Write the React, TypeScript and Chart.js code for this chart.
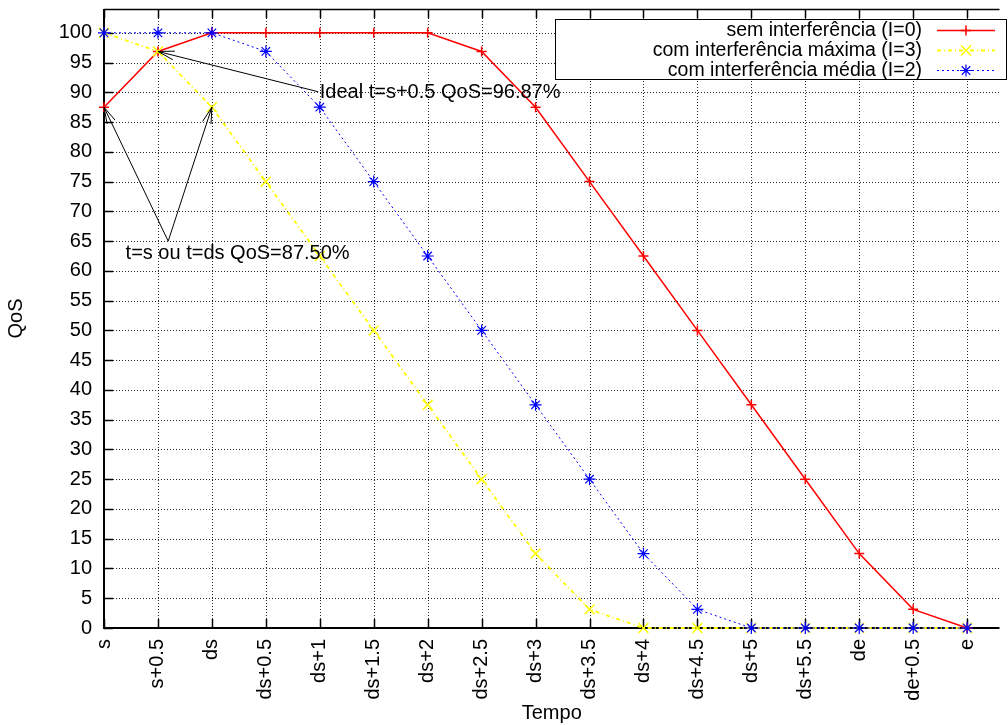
import React, { useEffect, useRef } from "react";
import { Chart, registerables } from "chart.js";

Chart.register(...registerables);

const categories = ["s", "s+0.5", "ds", "ds+0.5", "ds+1", "ds+1.5", "ds+2", "ds+2.5", "ds+3", "ds+3.5", "ds+4", "ds+4.5", "ds+5", "ds+5.5", "de", "de+0.5", "e"];
const semInterferencia = [87.5, 96.87, 100, 100, 100, 100, 100, 96.87, 87.5, 75, 62.5, 50, 37.5, 25, 12.5, 3.13, 0];
const interferenciaMaxima = [100, 96.87, 87.5, 75, 62.5, 50, 37.5, 25, 12.5, 3.13, 0, 0, 0, 0, 0, 0, 0];
const interferenciaMedia = [100, 100, 100, 96.87, 87.5, 75, 62.5, 50, 37.5, 25, 12.5, 3.13, 0, 0, 0, 0, 0];
const yTickValues = [0, 5, 10, 15, 20, 25, 30, 35, 40, 45, 50, 55, 60, 65, 70, 75, 80, 85, 90, 95, 100];
const seriesNames = ["sem interferência (I=0)", "com interferência máxima (I=3)", "com interferência média (I=2)"];

// annotations (data coordinates)
const labelIdeal = { text: "Ideal t=s+0.5 QoS=96.87%", x: 4, y: 90 };
const labelSDs = { text: "t=s ou t=ds QoS=87.50%", x: 0.4, y: 63 };
const arrows = [
  { from: [3.97, 90.1], to: [1, 96.87] },
  { from: [1.19, 65], to: [0, 87.5] },
  { from: [1.19, 65], to: [2, 87.5] },
];

const FONT = "'Liberation Sans', Arial, sans-serif";

const toPts = (arr: number[]) => arr.map((v, i) => ({ x: i, y: v }));

function drawArrow(ctx: CanvasRenderingContext2D, x1: number, y1: number, x2: number, y2: number) {
  const ang = Math.atan2(y1 - y2, x1 - x2);
  const len = 17;
  const spread = (15 * Math.PI) / 180;
  ctx.beginPath();
  ctx.moveTo(x1, y1);
  ctx.lineTo(x2, y2);
  ctx.moveTo(x2 + len * Math.cos(ang + spread), y2 + len * Math.sin(ang + spread));
  ctx.lineTo(x2, y2);
  ctx.lineTo(x2 + len * Math.cos(ang - spread), y2 + len * Math.sin(ang - spread));
  ctx.stroke();
}

function drawMarker(ctx: CanvasRenderingContext2D, style: string, r: number, x: number, y: number) {
  ctx.beginPath();
  if (style === "cross" || style === "star") {
    ctx.moveTo(x - r, y);
    ctx.lineTo(x + r, y);
    ctx.moveTo(x, y - r);
    ctx.lineTo(x, y + r);
  }
  if (style === "crossRot" || style === "star") {
    const d = r * Math.SQRT1_2;
    ctx.moveTo(x - d, y - d);
    ctx.lineTo(x + d, y + d);
    ctx.moveTo(x - d, y + d);
    ctx.lineTo(x + d, y - d);
  }
  ctx.stroke();
}

const gnuplotPlugin = {
  id: "gnuplotDecor",
  beforeDatasetsDraw(chart: any) {
    const { ctx, chartArea: a, scales } = chart;
    const xs = scales.x, ys = scales.y;
    ctx.save();
    // grid
    ctx.strokeStyle = "rgba(0,0,0,0.85)";
    ctx.lineWidth = 1;
    ctx.setLineDash([1, 2]);
    categories.forEach((_, i) => {
      const px = Math.round(xs.getPixelForValue(i)) + 0.5;
      ctx.beginPath();
      ctx.moveTo(px, a.top);
      ctx.lineTo(px, a.bottom);
      ctx.stroke();
    });
    yTickValues.forEach((v) => {
      const py = Math.round(ys.getPixelForValue(v)) + 0.5;
      ctx.beginPath();
      ctx.moveTo(a.left, py);
      ctx.lineTo(a.right, py);
      ctx.stroke();
    });
    ctx.setLineDash([]);
    // ticks (inward)
    ctx.strokeStyle = "#000";
    ctx.lineWidth = 1.5;
    const tl = 9;
    categories.forEach((_, i) => {
      const px = Math.round(xs.getPixelForValue(i)) + 0.5;
      ctx.beginPath();
      ctx.moveTo(px, a.bottom);
      ctx.lineTo(px, a.bottom - tl);
      ctx.moveTo(px, a.top);
      ctx.lineTo(px, a.top + tl);
      ctx.stroke();
    });
    yTickValues.forEach((v) => {
      const py = Math.round(ys.getPixelForValue(v)) + 0.5;
      ctx.beginPath();
      ctx.moveTo(a.left, py);
      ctx.lineTo(a.left + tl, py);
      ctx.stroke();
    });
    // frame
    ctx.lineWidth = 2;
    ctx.beginPath();
    ctx.moveTo(a.right, a.bottom);
    ctx.lineTo(a.left, a.bottom);
    ctx.lineTo(a.left, a.top);
    ctx.stroke();
    ctx.lineWidth = 1.3;
    ctx.beginPath();
    ctx.moveTo(a.left, a.top + 0.5);
    ctx.lineTo(a.right, a.top + 0.5);
    ctx.stroke();
    ctx.restore();
  },
  afterDatasetsDraw(chart: any) {
    const { ctx, scales } = chart;
    const xs = scales.x, ys = scales.y;
    ctx.save();
    // annotations
    ctx.strokeStyle = "#000";
    ctx.lineWidth = 1;
    arrows.forEach((ar) => {
      drawArrow(
        ctx,
        xs.getPixelForValue(ar.from[0]),
        ys.getPixelForValue(ar.from[1]),
        xs.getPixelForValue(ar.to[0]),
        ys.getPixelForValue(ar.to[1])
      );
    });
    ctx.fillStyle = "#000";
    ctx.font = `20px ${FONT}`;
    ctx.textAlign = "left";
    ctx.textBaseline = "middle";
    [labelIdeal, labelSDs].forEach((l) => {
      ctx.fillText(l.text, xs.getPixelForValue(l.x), ys.getPixelForValue(l.y));
    });
    // legend
    const boxL = 555, boxT = 19, boxR = 1006, boxB = 79;
    ctx.fillStyle = "#fff";
    ctx.fillRect(boxL, boxT, boxR - boxL, boxB - boxT);
    ctx.strokeStyle = "#000";
    ctx.lineWidth = 1;
    ctx.strokeRect(boxL + 0.5, boxT + 0.5, boxR - boxL, boxB - boxT);
    const dsets = chart.data.datasets;
    ctx.textAlign = "right";
    ctx.font = `19.5px ${FONT}`;
    seriesNames.forEach((name, i) => {
      const cy = 30 + i * 20;
      ctx.fillStyle = "#000";
      ctx.fillText(name, 922, cy + 1);
      const d = dsets[i];
      ctx.strokeStyle = d.borderColor;
      ctx.lineWidth = d.borderWidth;
      ctx.setLineDash(d.borderDash || []);
      ctx.beginPath();
      ctx.moveTo(937, cy + 0.5);
      ctx.lineTo(995, cy + 0.5);
      ctx.stroke();
      ctx.setLineDash([]);
      ctx.lineWidth = d.pointBorderWidth;
      drawMarker(ctx, d.pointStyle, d.pointRadius, 966, cy + 0.5);
    });
    ctx.restore();
  },
};

export default function App() {
  const ref = useRef<HTMLCanvasElement | null>(null);
  useEffect(() => {
    document.body.style.margin = "0";
    Chart.defaults.font.family = FONT;
    Chart.defaults.font.size = 20;
    Chart.defaults.color = "#000";
    const chart = new Chart(ref.current as HTMLCanvasElement, {
      type: "line",
      data: {
        datasets: [
          {
            label: seriesNames[0],
            data: toPts(semInterferencia),
            borderColor: "#ff0000",
            backgroundColor: "#ff0000",
            borderWidth: 1.5,
            pointStyle: "cross",
            pointRadius: 5,
            pointBorderWidth: 1.5,
            pointBorderColor: "#ff0000",
            tension: 0,
            order: 3,
            clip: false as any,
          },
          {
            label: seriesNames[1],
            data: toPts(interferenciaMaxima),
            borderColor: "#ffff00",
            backgroundColor: "#ffff00",
            borderWidth: 1.8,
            borderDash: [4, 3, 1, 3],
            pointStyle: "crossRot",
            pointRadius: 7,
            pointBorderWidth: 1.5,
            pointBorderColor: "#ffff00",
            tension: 0,
            order: 2,
            clip: false as any,
          },
          {
            label: seriesNames[2],
            data: toPts(interferenciaMedia),
            borderColor: "#0000ff",
            backgroundColor: "#0000ff",
            borderWidth: 1,
            borderDash: [2, 3],
            pointStyle: "star",
            pointRadius: 6,
            pointBorderWidth: 1.2,
            pointBorderColor: "#0000ff",
            tension: 0,
            order: 1,
            clip: false as any,
          },
        ],
      },
      options: {
        animation: false,
        responsive: false,
        maintainAspectRatio: false,
        layout: { padding: { top: 9, right: 0, left: 0, bottom: 0 } },
        plugins: { legend: { display: false }, tooltip: { enabled: false } },
        scales: {
          x: {
            type: "linear",
            min: 0,
            max: 16.6,
            grid: { display: false, drawTicks: false },
            border: { display: false },
            afterBuildTicks: (scale: any) => {
              scale.ticks = categories.map((_, i) => ({ value: i }));
            },
            afterFit: (scale: any) => {
              scale.height = 97;
              scale.paddingLeft = 0;
              scale.paddingRight = 0;
            },
            ticks: {
              autoSkip: false,
              maxRotation: 90,
              minRotation: 90,
              padding: 11,
              font: { size: 20 },
              callback: (v: any) => categories[v as number] ?? "",
            },
            title: { display: true, text: "Tempo", font: { size: 20 }, padding: { top: 0, bottom: 0 } },
          },
          y: {
            min: 0,
            max: 104,
            grid: { display: false, drawTicks: false },
            border: { display: false },
            afterBuildTicks: (scale: any) => {
              scale.ticks = yTickValues.map((v) => ({ value: v }));
            },
            afterFit: (scale: any) => {
              scale.width = 104;
              scale.paddingTop = 0;
              scale.paddingBottom = 0;
            },
            ticks: { padding: 12, font: { size: 20 }, callback: (v: any) => String(v) },
            title: { display: true, text: "QoS", font: { size: 20 }, padding: { top: 4, bottom: 4 } },
          },
        },
      },
      plugins: [gnuplotPlugin],
    });
    return () => chart.destroy();
  }, []);
  return (
    <div style={{ position: "absolute", left: 0, top: 0, width: 1008, height: 725 }}>
      <canvas ref={ref} width={1008} height={725} style={{ width: 1008, height: 725 }} />
    </div>
  );
}
